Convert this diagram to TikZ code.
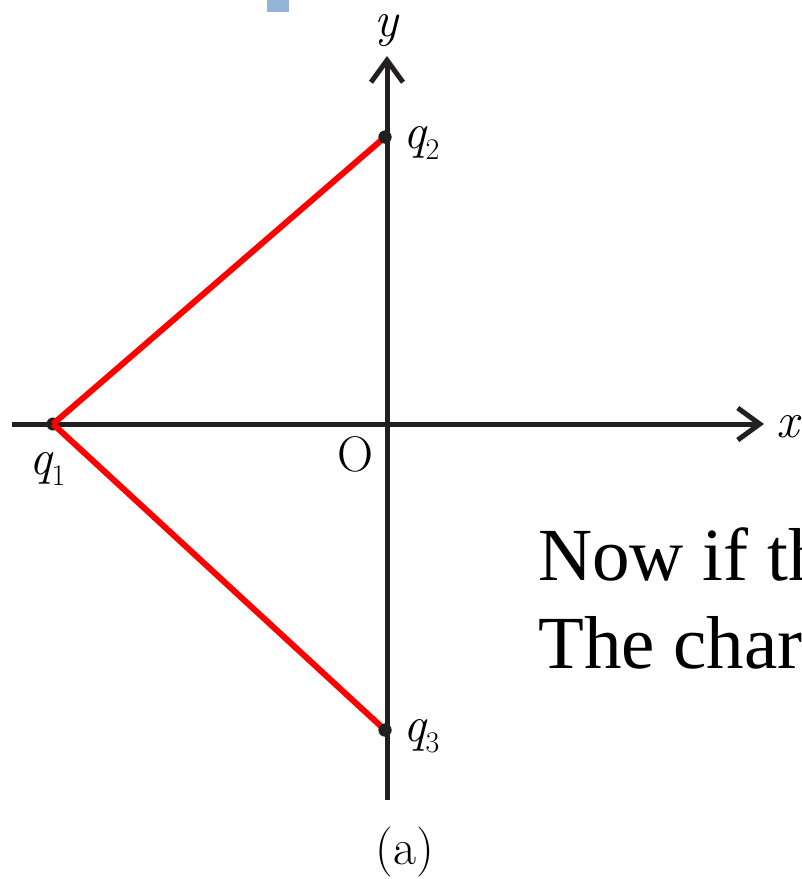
\documentclass[tikz,border=0pt]{standalone}
\usepackage{fontspec}
\newfontfamily\timesfont{Liberation Serif}
\usetikzlibrary{arrows.meta}
\definecolor{axiscol}{HTML}{231F20}
\definecolor{redline}{HTML}{FF0000}
\definecolor{bluemark}{HTML}{93B6D8}
\newcommand{\qlab}[1]{{\itshape q}\raisebox{-0.22em}{\fontsize{30}{32}\selectfont #1}}
\begin{document}
\begin{tikzpicture}[x=1pt,y=-1pt,
  axis/.style={draw=axiscol,line width=5pt,-{Straight Barb[length=22pt,width=32pt,line width=5pt]}},
  chargeline/.style={draw=redline,line width=6pt},
  chargedot/.style={circle,fill=axiscol,inner sep=0pt,minimum size=13pt},
  lbl/.style={inner sep=0pt,font=\fontsize{50}{54}\selectfont}]
\useasboundingbox (0,0) rectangle (802,879);
\fill[white] (0,0) rectangle (802,879);
\fill[bluemark] (267,0) rectangle (289,12);
% axes
\coordinate (xs) at (12,424);
\coordinate (xe) at (764,424);
\coordinate (ys) at (387,800);
\coordinate (ye) at (387,56);
\draw[axis] (xs) -- (xe);
\draw[axis] (ys) -- (ye);
% charges
\node[chargedot] (q1) at (53,424) {};
\node[chargedot] (q2) at (385,137) {};
\node[chargedot] (q3) at (385,730) {};
\draw[chargeline] (q1.center) -- (q2.center);
\draw[chargeline] (q1.center) -- (q3.center);
\node[chargedot] at (q2) {};
\node[chargedot] at (q3) {};
% labels
\node[lbl,anchor=base west] (lq2) at (403,148) {\qlab{2}};
\node[lbl,anchor=base west] (lq1) at (29,474) {\qlab{1}};
\node[lbl,anchor=base west] (lq3) at (403,741) {\qlab{3}};
\node[lbl,anchor=base] (lO) at (355,471) {O};
\node[lbl,anchor=base] (ly) at (386,36) {\itshape y};
\node[lbl,anchor=base west] (lx) at (776,437) {\itshape x};
\node[lbl,anchor=base] (la) at (405,864) {(a)};
% cut-off text
\begin{scope}
\clip (0,0) rectangle (802,879);
\node[inner sep=0pt,anchor=base west,font=\timesfont\fontsize{75}{80}\selectfont] (t1) at (538,580) {Now if the};
\node[inner sep=0pt,anchor=base west,font=\timesfont\fontsize{75}{80}\selectfont] (t2) at (538,668) {The charge};
\end{scope}
\end{tikzpicture}
\end{document}
